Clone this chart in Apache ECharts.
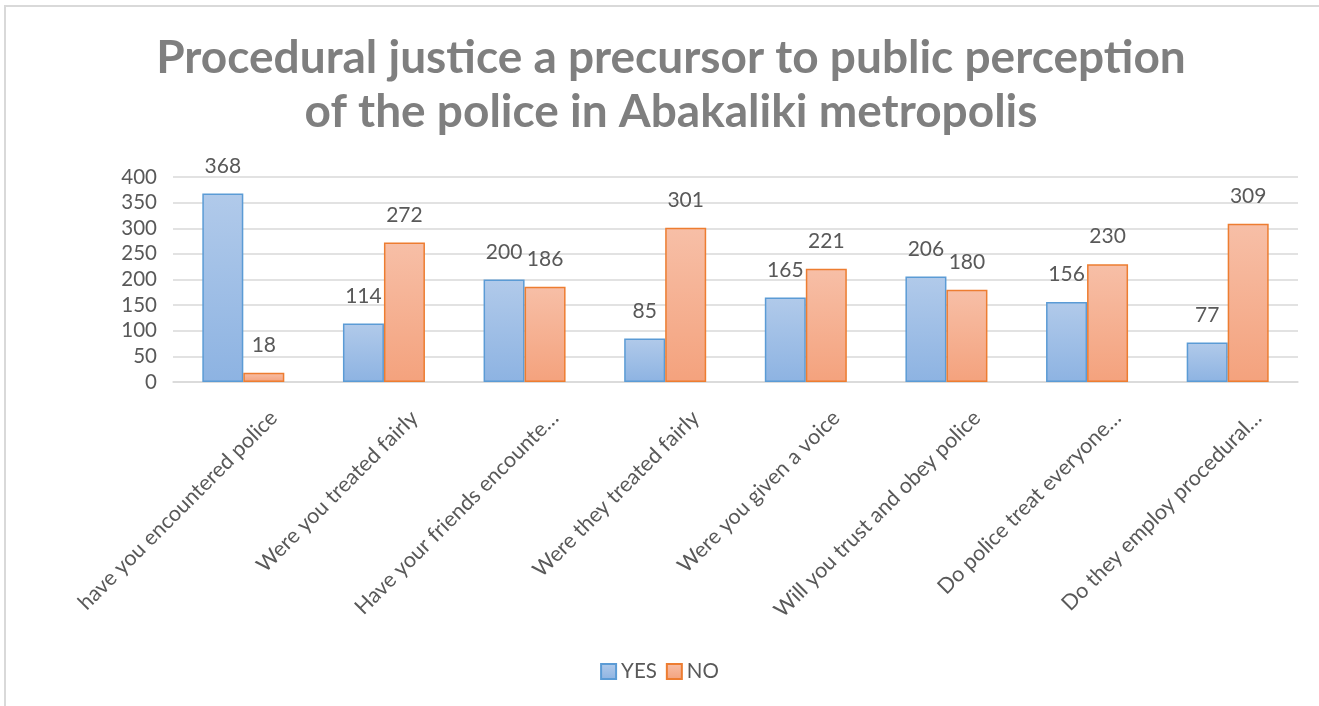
<!DOCTYPE html>
<html>
<head>
<meta charset="utf-8">
<script src="https://cdn.jsdelivr.net/npm/echarts@6/dist/echarts.min.js"></script>
<style>
html,body{margin:0;padding:0;background:#fff;}
#frame{position:absolute;left:4px;top:5px;width:1315px;height:701px;border-top:2px solid #d9d9d9;border-left:2px solid #d9d9d9;box-sizing:border-box;}
#chart{position:absolute;left:0;top:0;width:1319px;height:706px;}
</style>
</head>
<body>
<div id="frame"></div>
<div id="chart"></div>
<script>
var titleText = 'Procedural justice a precursor to public perception\nof the police in Abakaliki metropolis';
var categories = [
  'have you encountered police',
  'Were you treated fairly',
  'Have your friends encounte…',
  'Were they treated fairly',
  'Were you given a voice',
  'Will you trust and obey police',
  'Do police treat everyone…',
  'Do they employ procedural…'
];
var yesValues = [368, 114, 200, 85, 165, 206, 156, 77];
var noValues = [18, 272, 186, 301, 221, 180, 230, 309];
var seriesNames = ['YES', 'NO'];

var FONT = 'Lato, "Open Sans", sans-serif';
var chart = echarts.init(document.getElementById('chart'));
function grad(top, bottom) {
  return new echarts.graphic.LinearGradient(0, 0, 0, 1, [
    {offset: 0, color: top}, {offset: 1, color: bottom}
  ]);
}
var labelCfg = {
  show: true, position: 'top', distance: 17,
  color: '#595959', fontSize: 21, fontFamily: FONT
};
chart.setOption({
  animation: false,
  title: {
    text: titleText,
    left: 666, top: 26,
    textAlign: 'center',
    textStyle: {
      color: '#7f7f7f', fontSize: 46, fontWeight: 'bold',
      fontFamily: FONT, lineHeight: 54, align: 'center'
    }
  },
  legend: {
    data: seriesNames,
    bottom: 19, left: 'center',
    icon: 'rect', itemWidth: 15, itemHeight: 15, itemGap: 9,
    textStyle: {color: '#595959', fontSize: 20.5, fontFamily: FONT}
  },
  grid: {left: 173, right: 21, top: 177, bottom: 324, containLabel: false},
  xAxis: {
    type: 'category',
    data: categories,
    axisLine: {lineStyle: {color: '#d9d9d9', width: 1.5}},
    axisTick: {show: false},
    axisLabel: {
      interval: 0, rotate: 45, margin: 2,
      color: '#595959', fontSize: 21.5, fontFamily: FONT,
      verticalAlign: 'top', lineHeight: 86
    }
  },
  yAxis: {
    type: 'value', min: 0, max: 400, interval: 50,
    axisLine: {show: false},
    axisTick: {show: false},
    splitLine: {lineStyle: {color: '#d9d9d9', width: 1.5}},
    axisLabel: {color: '#595959', fontSize: 20.5, fontFamily: FONT, margin: 16}
  },
  series: [
    {
      name: seriesNames[0], type: 'bar', data: yesValues,
      barWidth: 41, barGap: '0%',
      itemStyle: {color: grad('#b1caea', '#8db3e2'), borderColor: '#5b9bd5', borderWidth: 1.5},
      label: labelCfg
    },
    {
      name: seriesNames[1], type: 'bar', data: noValues,
      barWidth: 41, barGap: '0%',
      itemStyle: {color: grad('#f7bfa7', '#f4a27d'), borderColor: '#ed7d31', borderWidth: 1.5},
      label: labelCfg
    }
  ]
});
</script>
</body>
</html>
